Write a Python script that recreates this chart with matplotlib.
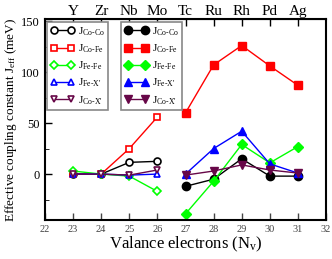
import matplotlib
matplotlib.use('Agg')
import matplotlib.pyplot as plt

plt.rcParams['font.family'] = ['Liberation Serif', 'DejaVu Serif']
plt.rcParams['mathtext.fontset'] = 'custom'
plt.rcParams['mathtext.rm'] = 'Liberation Serif'
plt.rcParams['mathtext.it'] = 'Liberation Serif:italic'

# Co-based (open, 23-26) and Fe-based (filled, 27-31)
x_open = [23, 24, 25, 26]
x_fill = [27, 28, 29, 30, 31]
elements = ['Y', 'Zr', 'Nb', 'Mo', 'Tc', 'Ru', 'Rh', 'Pd', 'Ag']
element_pos = [23, 24, 25, 26, 27, 28, 29, 30, 31]

coco_open = [0, 0, 11.5, 12.5]
cofe_open = [0, 0, 25, 56]
fefe_open = [3, 0, -2, -17]
fex_open = [0, 0, -1, 0]
cox_open = [0, 0, -1, 4]

coco_fill = [-12, -5, 15, -2, -2]
cofe_fill = [60, 107, 126, 106, 87]
fefe_fill = [-39, -7, 29, 11, 27]
fex_fill = [0, 25, 42, 10, 1]
cox_fill = [-1, 3, 9, 4, 1]

labels = [r'J$_{\text{Co-Co}}$', r'J$_{\text{Co-Fe}}$', r'J$_{\text{Fe-Fe}}$',
          r"J$_{\text{Fe-X'}}$", r"J$_{\text{Co-X'}}$"]
colors = ['black', '#ff0000', '#00ff00', '#0000ff', '#670748']
markers = ['o', 's', 'D', '^', 'v']
open_sets = [coco_open, cofe_open, fefe_open, fex_open, cox_open]
fill_sets = [coco_fill, cofe_fill, fefe_fill, fex_fill, cox_fill]

fig = plt.figure(figsize=(3.32, 2.59), dpi=100)
ax = fig.add_axes([0.1355, 0.1506, 0.8465, 0.776])

h_open = []
h_fill = []
for ys, c, m, lab in zip(open_sets, colors, markers, labels):
    ms = 5 if m != 'D' else 4.5
    ln, = ax.plot(x_open, ys, color=c, lw=1, marker=m, ms=ms, mfc='white',
                  mec=c, mew=1.2, label=lab)
    h_open.append(ln)
for ys, c, m, lab in zip(fill_sets, colors, markers, labels):
    ms = 6 if m != 'D' else 5
    ln, = ax.plot(x_fill, ys, color=c, lw=1, marker=m, ms=ms, mfc=c,
                  mec=c, label=lab)
    h_fill.append(ln)

ax.set_xlim(22, 32)
ax.set_ylim(-45, 152)
ax.set_xticks(range(22, 33))
ax.set_yticks([0, 50, 100, 150])
ax.set_yticks([-25, 25, 75, 125], minor=True)
ax.tick_params(axis='both', direction='in', labelsize=9, width=1, length=5)
ax.tick_params(axis='y', which='minor', direction='in', length=3)
ax.tick_params(axis='x', labelsize=7.5, colors='#444444', labelcolor='#444444')
for s in ax.spines.values():
    s.set_linewidth(1.5)

top = ax.secondary_xaxis('top')
top.set_xticks(element_pos)
top.set_xticklabels(elements)
top.tick_params(direction='in', labelsize=11, length=5, width=1, pad=1)

ax.set_xlabel(r'Valance electrons (N$_{\rm v}$)', fontsize=12, labelpad=1)
ax.set_ylabel(r'Effective coupling constant J$_{\rm eff}$ (meV)', fontsize=9.5, labelpad=2)

leg_kw = dict(loc='upper left', numpoints=2, fontsize=8, frameon=True,
              fancybox=False, edgecolor='#888888', framealpha=1,
              borderpad=0.3, handlelength=2.2, labelspacing=0.42,
              handletextpad=0.3, borderaxespad=0)
leg1 = ax.legend(handles=h_open, bbox_to_anchor=(0.007, 0.985), **leg_kw)
leg1.get_frame().set_linewidth(1.2)
ax.add_artist(leg1)
leg2 = ax.legend(handles=h_fill, bbox_to_anchor=(0.27, 0.985), **leg_kw)
leg2.get_frame().set_linewidth(1.2)

fig.savefig('out.png', dpi=100)
